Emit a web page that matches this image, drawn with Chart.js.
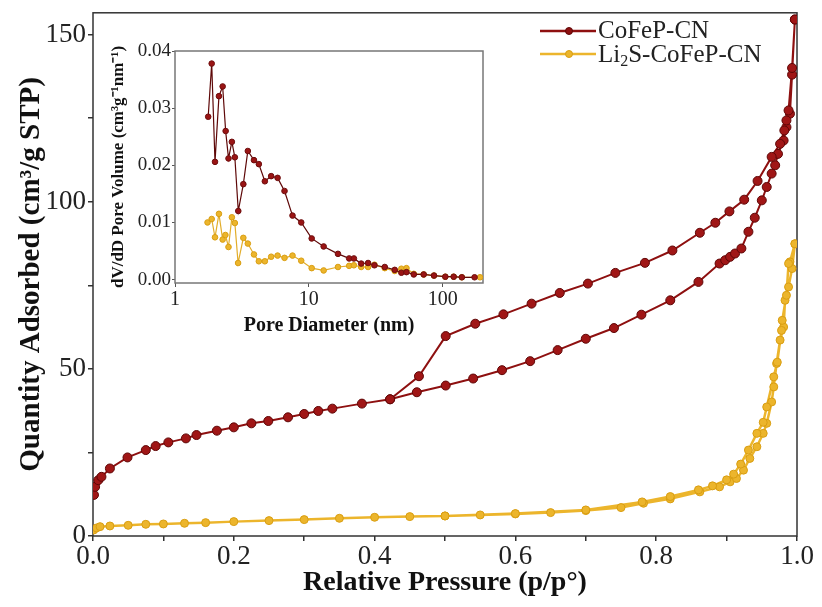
<!DOCTYPE html>
<html>
<head>
<meta charset="utf-8">
<script src="https://cdn.jsdelivr.net/npm/chart.js@4.4.1/dist/chart.umd.min.js"></script>
<style>
  html, body { margin: 0; padding: 0; background: #fff; }
  #wrap { position: relative; width: 822px; height: 607px; }
  #main { position: absolute; left: 0; top: 0; }
  #inset { position: absolute; left: 108px; top: 40px; }
</style>
</head>
<body>
<div id="wrap">
  <canvas id="main" width="822" height="607"></canvas>
  <canvas id="inset" width="390" height="300"></canvas>
</div>
<script>
// isotermas N2 - CoFeP-CN (adsorcao + dessorcao)
const redAdsP = [0.0014, 0.003, 0.0075, 0.012, 0.024, 0.049, 0.075, 0.089, 0.107, 0.132, 0.147, 0.176, 0.2, 0.225, 0.249, 0.277, 0.3, 0.32, 0.34, 0.382, 0.422, 0.46, 0.501, 0.54, 0.581, 0.621, 0.66, 0.70, 0.74, 0.779, 0.82, 0.86, 0.89, 0.898, 0.905, 0.912, 0.921, 0.931, 0.94, 0.95, 0.957, 0.964, 0.969, 0.973, 0.981, 0.985, 0.99, 0.993, 0.997];
const redAdsQ = [12.3, 14.7, 16.7, 17.7, 20.2, 23.5, 25.7, 26.9, 28.0, 29.2, 30.2, 31.5, 32.5, 33.7, 34.4, 35.5, 36.5, 37.4, 38.1, 39.6, 40.9, 43.0, 45.0, 47.1, 49.6, 52.3, 55.6, 59.0, 62.2, 66.2, 70.5, 76.0, 81.5, 82.5, 83.5, 84.5, 86.0, 91.0, 95.2, 100.4, 104.4, 108.4, 110.9, 114.3, 118.3, 122.3, 126.3, 138.0, 154.5];
const redDesP = [0.997, 0.993, 0.988, 0.985, 0.982, 0.976, 0.964, 0.944, 0.925, 0.904, 0.884, 0.862, 0.823, 0.784, 0.742, 0.703, 0.663, 0.623, 0.583, 0.543, 0.501, 0.463, 0.422];
const redDesQ = [154.5, 140.0, 127.3, 124.3, 121.3, 117.3, 113.4, 106.2, 100.6, 97.1, 93.7, 90.7, 85.4, 81.7, 78.7, 75.5, 72.7, 69.5, 66.3, 63.5, 59.8, 47.8, 40.9];

// isotermas N2 - Li2S-CoFeP-CN
const yelAdsP = [0.001, 0.005, 0.01, 0.024, 0.05, 0.075, 0.1, 0.13, 0.16, 0.2, 0.25, 0.3, 0.35, 0.4, 0.45, 0.5, 0.55, 0.6, 0.65, 0.7, 0.75, 0.782, 0.82, 0.862, 0.89, 0.905, 0.914, 0.924, 0.933, 0.943, 0.952, 0.957, 0.964, 0.967, 0.971, 0.976, 0.981, 0.983, 0.988, 0.993, 0.997];
const yelAdsQ = [1.8, 2.4, 2.8, 3.0, 3.2, 3.5, 3.6, 3.8, 4.0, 4.3, 4.6, 4.9, 5.3, 5.6, 5.8, 6.0, 6.3, 6.6, 7.0, 7.6, 8.5, 9.8, 11.1, 13.2, 14.7, 16.2, 17.2, 19.7, 23.2, 26.7, 30.7, 33.7, 40.1, 44.6, 51.6, 58.6, 62.5, 70.5, 74.5, 80.0, 87.4];
const yelDesP = [0.997, 0.99, 0.988, 0.985, 0.979, 0.978, 0.972, 0.967, 0.957, 0.952, 0.943, 0.931, 0.92, 0.91, 0.9, 0.88, 0.86, 0.82, 0.78, 0.7, 0.6, 0.5];
const yelDesQ = [87.4, 82.0, 81.5, 72.0, 64.5, 61.5, 52.0, 47.6, 38.6, 34.0, 30.7, 25.7, 21.5, 18.5, 16.8, 15.0, 13.8, 11.8, 10.2, 7.8, 6.7, 6.0];

// distribuicao de poros (inset)
const poreDiamRed = [1.77, 1.88, 1.99, 2.13, 2.27, 2.39, 2.51, 2.66, 2.80, 2.97, 3.24, 3.50, 3.89, 4.23, 4.69, 5.23, 5.84, 6.58, 7.55, 8.77, 10.5, 12.9, 16.5, 20.0, 21.7, 24.6, 27.7, 30.9, 36.9, 43.8, 49.1, 53.6, 60.8, 72.1, 86.1, 104.6, 120.8, 139, 173];
const poreVolRed = [0.0285, 0.0378, 0.0206, 0.0321, 0.0338, 0.0260, 0.0212, 0.0241, 0.0214, 0.0120, 0.0167, 0.0225, 0.0209, 0.0202, 0.0172, 0.0181, 0.0178, 0.0155, 0.0112, 0.0100, 0.0072, 0.0058, 0.0045, 0.0037, 0.0037, 0.0028, 0.0029, 0.0025, 0.0022, 0.0017, 0.0012, 0.0013, 0.0009, 0.0009, 0.0007, 0.0005, 0.0005, 0.0004, 0.0004];
const poreDiamLi = [1.75, 1.88, 1.99, 2.13, 2.27, 2.38, 2.51, 2.66, 2.80, 2.96, 3.24, 3.50, 3.89, 4.23, 4.69, 5.23, 5.84, 6.58, 7.55, 8.77, 10.5, 12.9, 16.5, 20.0, 21.7, 24.6, 27.7, 30.9, 36.9, 43.8, 49.1, 53.6, 60.8, 72.1, 86.1, 104.6, 120.8, 139, 190];
const poreVolLi = [0.0100, 0.0106, 0.0074, 0.0115, 0.0070, 0.0078, 0.0057, 0.0109, 0.0099, 0.0029, 0.0073, 0.0063, 0.0044, 0.0032, 0.0032, 0.0040, 0.0042, 0.0038, 0.0042, 0.0033, 0.0020, 0.0016, 0.0022, 0.0024, 0.0025, 0.0022, 0.0022, 0.0026, 0.0020, 0.0015, 0.0019, 0.0020, 0.0010, 0.0009, 0.0007, 0.0005, 0.0005, 0.0004, 0.0004];

const seriesNames = ['CoFeP-CN', 'Li2S-CoFeP-CN'];
const mainYTicks = [0, 25, 50, 75, 100, 125, 150];
const insetYTicks = [0, 0.01, 0.02, 0.03, 0.04];
const insetXTicks = [1, 10, 100];

const RED = '#8e1010', RED_DARK = '#5e0606';
const YEL = '#ecb52c', YEL_DARK = '#d99e12';
const SERIF = '"Liberation Serif", "Times New Roman", serif';

function pts(xs, ys) {
    return xs.map((x, i) => ({ x: x, y: ys[i] }));
}

// moldura em volta da area do grafico
const frame = {
    id: 'frame',
    beforeDatasetsDraw(chart, args, opts) {
        const { ctx, chartArea: a } = chart;
        ctx.save();
        ctx.strokeStyle = opts.color;
        ctx.lineWidth = opts.width;
        ctx.strokeRect(a.left, a.top, a.right - a.left, a.bottom - a.top);
        ctx.restore();
    }
};

// legenda com subscrito
const legendBox = {
    id: 'legendBox',
    afterDraw(chart) {
        const ctx = chart.ctx;
        const rows = [
            { y: 31, line: RED, dot: RED, dark: RED_DARK },
            { y: 54, line: YEL, dot: YEL, dark: YEL_DARK }
        ];
        ctx.save();
        rows.forEach(r => {
            ctx.strokeStyle = r.line;
            ctx.lineWidth = 2.5;
            ctx.beginPath();
            ctx.moveTo(540, r.y);
            ctx.lineTo(596, r.y);
            ctx.stroke();
            ctx.fillStyle = r.dot;
            ctx.strokeStyle = r.dark;
            ctx.lineWidth = 1;
            ctx.beginPath();
            ctx.arc(569, r.y, 3.5, 0, Math.PI * 2);
            ctx.fill();
            ctx.stroke();
        });
        ctx.fillStyle = '#222';
        ctx.textBaseline = 'middle';
        ctx.font = '25px ' + SERIF;
        ctx.fillText(seriesNames[0], 598, 31);
        let x = 598;
        ctx.fillText('Li', x, 55);
        x += ctx.measureText('Li').width;
        ctx.font = '16px ' + SERIF;
        ctx.fillText('2', x, 62);
        x += ctx.measureText('2').width;
        ctx.font = '25px ' + SERIF;
        ctx.fillText('S-CoFeP-CN', x, 55);
        ctx.restore();
    }
};

new Chart(document.getElementById('main').getContext('2d'), {
    type: 'scatter',
    data: {
        datasets: [
            {
                label: seriesNames[0],
                data: pts(redAdsP, redAdsQ).concat(pts(redDesP, redDesQ)),
                showLine: true,
                borderColor: RED,
                borderWidth: 2,
                pointRadius: 4.5,
                pointBackgroundColor: '#a01616',
                pointBorderColor: RED_DARK,
                pointBorderWidth: 1
            },
            {
                label: seriesNames[1],
                data: pts(yelAdsP, yelAdsQ).concat(pts(yelDesP, yelDesQ)),
                showLine: true,
                borderColor: YEL,
                borderWidth: 2.5,
                pointRadius: 4,
                pointBackgroundColor: YEL,
                pointBorderColor: YEL_DARK,
                pointBorderWidth: 1
            }
        ]
    },
    options: {
        responsive: false,
        animation: false,
        devicePixelRatio: 1,
        layout: { padding: { top: 12, right: 25, left: 0, bottom: 0 } },
        plugins: {
            legend: { display: false },
            tooltip: { enabled: false },
            frame: { color: '#333', width: 1.5 }
        },
        scales: {
            x: {
                type: 'linear',
                min: 0,
                max: 1,
                afterFit: s => { s.height = 71; },
                ticks: {
                    stepSize: 0.1,
                    padding: 0,
                    color: '#222',
                    font: { family: SERIF, size: 27 },
                    maxRotation: 0,
                    callback: v => (Math.round(v * 10) % 2 === 0 ? v.toFixed(1) : '')
                },
                grid: { drawOnChartArea: false, tickLength: 5, color: '#333', lineWidth: 1.5 },
                border: { display: false },
                title: {
                    display: true,
                    text: 'Relative Pressure (p/p°)',
                    color: '#111',
                    font: { family: SERIF, size: 28, weight: 'bold' },
                    padding: { top: 0, bottom: 7 }
                }
            },
            y: {
                min: 0,
                max: 156.5,
                afterFit: s => { s.width = 93; },
                afterBuildTicks: s => { s.ticks = mainYTicks.map(v => ({ value: v })); },
                ticks: {
                    padding: 2,
                    color: '#222',
                    font: { family: SERIF, size: 27, lineHeight: 0.8 },
                    callback: v => (v % 50 === 0 ? String(v) : '')
                },
                grid: { drawOnChartArea: false, tickLength: 5, color: '#333', lineWidth: 1.5 },
                border: { display: false },
                title: {
                    display: true,
                    text: 'Quantity Adsorbed (cm³/g STP)',
                    color: '#111',
                    font: { family: SERIF, size: 29, weight: 'bold' },
                    padding: { top: 14, bottom: 0 }
                }
            }
        }
    },
    plugins: [frame, legendBox]
});

// grafico inserido: distribuicao de tamanho de poros
new Chart(document.getElementById('inset').getContext('2d'), {
    type: 'scatter',
    data: {
        datasets: [
            {
                label: seriesNames[0],
                data: pts(poreDiamRed, poreVolRed),
                showLine: true,
                borderColor: '#5e0808',
                borderWidth: 1.2,
                pointRadius: 2.8,
                pointBackgroundColor: '#9a1414',
                pointBorderColor: '#6e0e0e',
                pointBorderWidth: 1
            },
            {
                label: seriesNames[1],
                data: pts(poreDiamLi, poreVolLi),
                showLine: true,
                borderColor: '#e2ad2a',
                borderWidth: 1.2,
                pointRadius: 2.8,
                pointBackgroundColor: YEL,
                pointBorderColor: YEL_DARK,
                pointBorderWidth: 1
            }
        ]
    },
    options: {
        responsive: false,
        animation: false,
        devicePixelRatio: 1,
        layout: { padding: { top: 11, right: 15, left: 0, bottom: 0 } },
        plugins: {
            legend: { display: false },
            tooltip: { enabled: false },
            frame: { color: '#777', width: 1.5 }
        },
        scales: {
            x: {
                type: 'logarithmic',
                min: 1,
                max: 200,
                afterFit: s => { s.height = 57; },
                afterBuildTicks: s => { s.ticks = insetXTicks.map(v => ({ value: v })); },
                ticks: {
                    padding: 1,
                    color: '#222',
                    font: { family: SERIF, size: 20 },
                    maxRotation: 0,
                    autoSkip: false,
                    callback: v => String(v)
                },
                grid: { drawOnChartArea: false, tickLength: 4, color: '#555', lineWidth: 1 },
                border: { display: false },
                title: {
                    display: true,
                    text: 'Pore Diameter (nm)',
                    color: '#111',
                    font: { family: SERIF, size: 20, weight: 'bold' },
                    padding: { top: 0, bottom: 2 }
                }
            },
            y: {
                min: -0.0006,
                max: 0.04,
                afterFit: s => { s.width = 67; },
                afterBuildTicks: s => { s.ticks = insetYTicks.map(v => ({ value: v })); },
                ticks: {
                    padding: 1,
                    color: '#222',
                    font: { family: SERIF, size: 19, lineHeight: 1 },
                    callback: v => v.toFixed(2)
                },
                grid: { drawOnChartArea: false, tickLength: 3, color: '#555', lineWidth: 1 },
                border: { display: false },
                title: {
                    display: true,
                    text: 'dV/dD Pore Volume (cm³g⁻¹nm⁻¹)',
                    color: '#111',
                    font: { family: SERIF, size: 17, weight: 'bold' },
                    padding: { top: 0, bottom: 0 }
                }
            }
        }
    },
    plugins: [frame]
});
</script>
</body>
</html>
